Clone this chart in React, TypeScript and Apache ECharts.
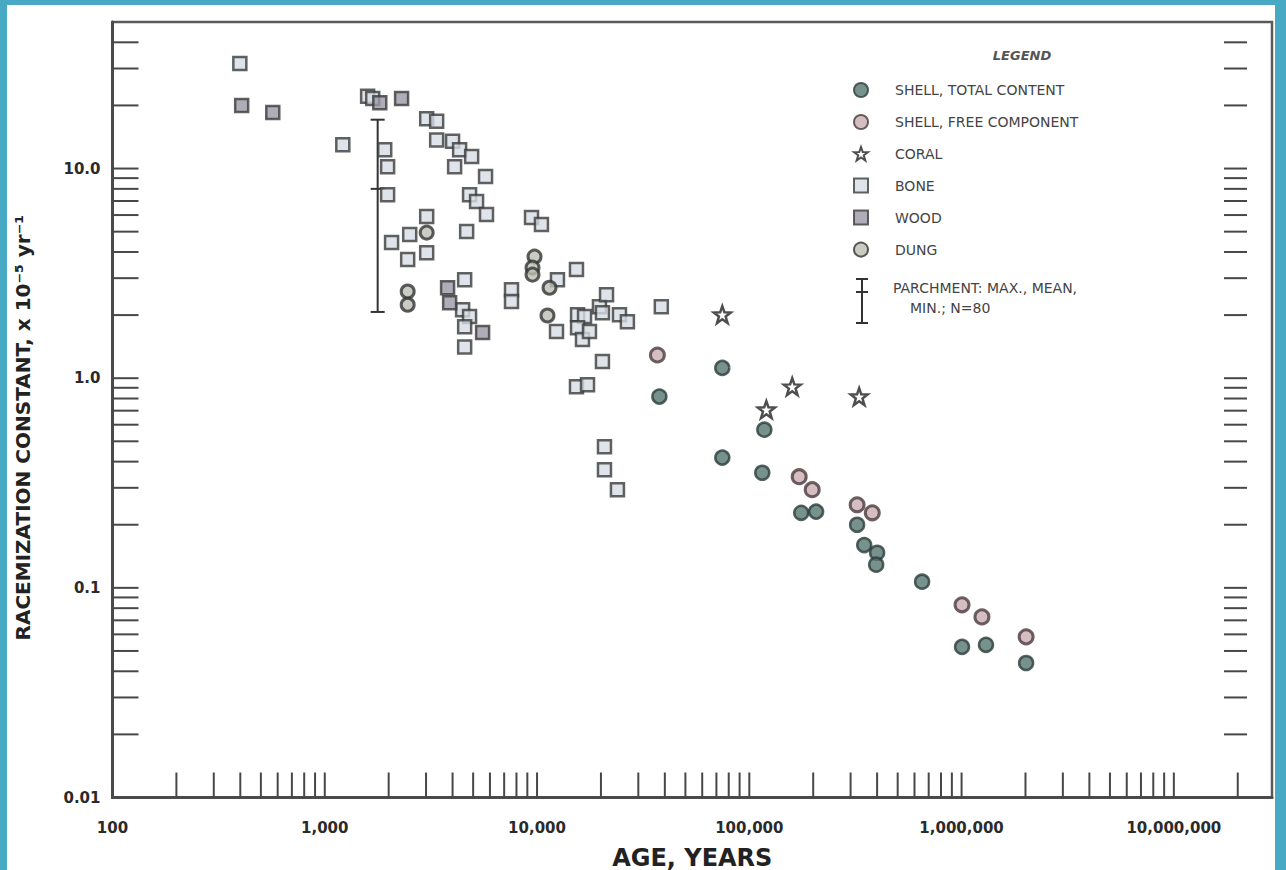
import React, { useEffect, useRef } from "react";
import * as echarts from "echarts";

// ---- axis extents & tick labels ----
const X_MIN = 100;
const X_MAX = 2.9e7;
const Y_MIN = 0.01;
const Y_MAX = 50;
const X_DECADES = [100, 1000, 1e4, 1e5, 1e6, 1e7];
const X_TICK_LABELS = ["100", "1,000", "10,000", "100,000", "1,000,000", "10,000,000"];
const Y_DECADES = [0.01, 0.1, 1, 10];
const Y_TICK_LABELS = ["0.01", "0.1", "1.0", "10.0"];
const TICK_MULTIPLIERS = [1, 2, 3, 4, 5, 6, 7, 8, 9];

// ---- data: [age (years), racemization constant (x10^-5 / yr)] ----
const SHELL_TOTAL = [
  [37700, 0.817], [74600, 1.12], [74600, 0.418], [117700, 0.568], [115100, 0.354],
  [175600, 0.228], [206400, 0.231], [322000, 0.2], [347800, 0.16], [400000, 0.147],
  [396000, 0.129], [651600, 0.107], [1005000, 0.0523], [1303000, 0.0535], [2014000, 0.0438],
];
const SHELL_FREE = [
  [36900, 1.29], [171800, 0.339], [197800, 0.294], [322000, 0.249], [379600, 0.228],
  [1005000, 0.083], [1247000, 0.0727], [2014000, 0.0584],
];
const CORAL = [[74600, 2.01], [120300, 0.708], [159300, 0.911], [329200, 0.817]];
const BONE = [
  [398, 31.7], [1216, 13.0], [1592, 22.1], [1682, 21.6], [1916, 12.3], [1977, 10.2],
  [1977, 7.5], [2064, 4.44], [2513, 4.85], [2458, 3.68], [3021, 17.3], [3366, 16.8],
  [3366, 13.7], [4000, 13.5], [4318, 12.3], [4920, 11.4], [4090, 10.2], [5720, 9.16],
  [4810, 7.5], [5190, 6.96], [5780, 6.03], [3021, 5.9], [4660, 5.01], [3021, 3.97],
  [4560, 2.95], [7580, 2.64], [7580, 2.32], [4460, 2.12], [4810, 1.97], [4560, 1.76],
  [4560, 1.41], [9420, 5.84], [10490, 5.41], [12480, 2.95], [15340, 3.3], [12350, 1.67],
  [15520, 2.01], [16740, 1.97], [15520, 1.74], [16370, 1.53], [17660, 1.67], [19680, 2.19],
  [21250, 2.5], [20330, 2.05], [24450, 2.01], [26650, 1.86], [38500, 2.19], [20330, 1.2],
  [15340, 0.911], [17290, 0.931], [20780, 0.471], [20780, 0.366], [23920, 0.294],
];
const WOOD = [[406, 20.0], [569, 18.5], [1816, 20.6], [2301, 21.6], [3790, 2.7], [3875, 2.29], [5540, 1.65]];
const DUNG = [
  [3021, 4.95], [2458, 2.59], [2458, 2.24], [9730, 3.8], [9520, 3.37], [9520, 3.12],
  [11450, 2.7], [11200, 1.99],
];
// parchment: [age, min, mean, max]
const PARCHMENT = [[1775, 2.07, 8.0, 17.1]];

const STAR =
  "path://M50,2 L62,36 L98,37 L69,59 L80,95 L50,74 L20,95 L31,59 L2,37 L38,36 Z";

const decadeTicks = (decades: number[], lo: number, hi: number) => {
  const out: number[] = [];
  decades.forEach((d) =>
    TICK_MULTIPLIERS.forEach((m) => {
      const v = d * m;
      if (v > lo * 1.0001 && v < hi * 0.9999) out.push(v);
    })
  );
  return out;
};

const X_TICKS = decadeTicks(X_DECADES, X_MIN, X_MAX);
const Y_TICKS = decadeTicks(Y_DECADES, Y_MIN, Y_MAX);

const labelFor = (decades: number[], labels: string[]) => (v: number) => {
  const i = decades.findIndex((d) => Math.abs(Math.log10(v / d)) < 1e-6);
  return i >= 0 ? labels[i] : "";
};

const TICK_COLOR = "#474747";
const AX_COLOR = "#4a4a4a";
const LEGEND_FONT = "DejaVu Sans";
const LABEL_FONT = "DejaVu Sans";

function tickSeries(name: string, data: number[][], x0: number, y0: number, x1: number, y1: number) {
  return {
    type: "custom",
    name,
    coordinateSystem: "cartesian2d",
    silent: true,
    clip: false,
    z: 1,
    data,
    renderItem: (_p: any, api: any) => {
      const p = api.coord([api.value(0), api.value(1)]);
      return {
        type: "line",
        shape: { x1: p[0] + x0, y1: p[1] + y0, x2: p[0] + x1, y2: p[1] + y1 },
        style: { stroke: TICK_COLOR, lineWidth: 2 },
      };
    },
  };
}

export default function App() {
  const ref = useRef<HTMLDivElement>(null);
  useEffect(() => {
    const chart = echarts.init(ref.current!, null, { renderer: "svg" });
    const legendText = { fontSize: 14, fontFamily: LEGEND_FONT, fill: "#444", verticalAlign: "middle" };
    const option: any = {
      animation: false,
      backgroundColor: "#ffffff",
      grid: {
        left: 112.5,
        right: 14,
        top: 22,
        bottom: 72.5,
        outerBoundsMode: "none",
        containLabel: false,
        show: true,
        borderColor: "#5a5a5a",
        borderWidth: 2.5,
      },
      xAxis: {
        type: "log",
        logBase: 10,
        min: X_MIN,
        max: X_MAX,
        name: "AGE, YEARS",
        nameLocation: "middle",
        nameGap: 48,
        nameTextStyle: { fontSize: 24, fontWeight: "bold", color: "#222", fontFamily: LABEL_FONT },
        axisLine: { show: true, lineStyle: { color: AX_COLOR, width: 3 } },
        axisTick: { show: false },
        splitLine: { show: false },
        axisLabel: {
          margin: 23,
          fontSize: 15,
          fontWeight: "bold",
          color: "#2a2a2a",
          fontFamily: LABEL_FONT,
          showMaxLabel: false,
          formatter: labelFor(X_DECADES, X_TICK_LABELS),
        },
      },
      yAxis: {
        type: "log",
        logBase: 10,
        min: Y_MIN,
        max: Y_MAX,
        name: "RACEMIZATION CONSTANT, x 10\u207B\u2075 yr\u207B\u00B9",
        nameLocation: "middle",
        nameGap: 80,
        nameTextStyle: {
          fontSize: 20,
          fontWeight: "bold",
          color: "#222",
          fontFamily: LABEL_FONT,
          padding: [0, 36, 0, 0],
        },
        axisLine: { show: true, lineStyle: { color: AX_COLOR, width: 3 } },
        axisTick: { show: false },
        splitLine: { show: false },
        axisLabel: {
          margin: 12,
          fontSize: 15,
          fontWeight: "bold",
          color: "#2a2a2a",
          fontFamily: LABEL_FONT,
          showMaxLabel: false,
          formatter: labelFor(Y_DECADES, Y_TICK_LABELS),
        },
      },
      legend: {
        data: ["SHELL, TOTAL CONTENT", "SHELL, FREE COMPONENT", "CORAL", "BONE", "WOOD", "DUNG"],
        orient: "vertical",
        left: 848,
        top: 77,
        itemWidth: 14,
        itemHeight: 14,
        itemGap: 16,
        selectedMode: false,
        textStyle: { fontSize: 14, fontFamily: LEGEND_FONT, color: "#444", padding: [0, 0, 0, 22] },
      },
      graphic: [
        {
          type: "text",
          x: 1022,
          y: 55,
          style: {
            text: "LEGEND",
            fontSize: 13,
            fontStyle: "italic",
            fontWeight: "bold",
            fontFamily: LEGEND_FONT,
            fill: "#555",
            align: "center",
            verticalAlign: "middle",
          },
        },
        { type: "line", shape: { x1: 862, y1: 279, x2: 862, y2: 323 }, style: { stroke: "#333", lineWidth: 2 } },
        { type: "line", shape: { x1: 856, y1: 279, x2: 868, y2: 279 }, style: { stroke: "#333", lineWidth: 2 } },
        { type: "line", shape: { x1: 856, y1: 292, x2: 868, y2: 292 }, style: { stroke: "#333", lineWidth: 2 } },
        { type: "line", shape: { x1: 856, y1: 323, x2: 868, y2: 323 }, style: { stroke: "#333", lineWidth: 2 } },
        { type: "text", x: 893, y: 288, style: { ...legendText, text: "PARCHMENT: MAX., MEAN," } },
        { type: "text", x: 910, y: 308, style: { ...legendText, text: "MIN.; N=80" } },
      ],
      series: [
        tickSeries("xTicks", X_TICKS.map((v) => [v, Y_MIN]), 0, 0, 0, -25),
        tickSeries("yTicksL", Y_TICKS.map((v) => [X_MIN, v]), 0, 0, 26, 0),
        tickSeries("yTicksR", Y_TICKS.map((v) => [X_MAX, v]), -25, 0, -48, 0),
        {
          type: "custom",
          name: "PARCHMENT",
          coordinateSystem: "cartesian2d",
          encode: { x: 0, y: [1, 2, 3] },
          data: PARCHMENT,
          z: 3,
          renderItem: (_p: any, api: any) => {
            const x = api.value(0);
            const lo = api.coord([x, api.value(1)]);
            const mid = api.coord([x, api.value(2)]);
            const hi = api.coord([x, api.value(3)]);
            const st = { stroke: "#333", lineWidth: 2 };
            return {
              type: "group",
              children: [
                { type: "line", shape: { x1: lo[0], y1: lo[1], x2: hi[0], y2: hi[1] }, style: st },
                { type: "line", shape: { x1: hi[0] - 7, y1: hi[1], x2: hi[0] + 7, y2: hi[1] }, style: st },
                { type: "line", shape: { x1: mid[0] - 7, y1: mid[1], x2: mid[0] + 7, y2: mid[1] }, style: st },
                { type: "line", shape: { x1: lo[0] - 7, y1: lo[1], x2: lo[0] + 7, y2: lo[1] }, style: st },
              ],
            };
          },
        },
        {
          type: "scatter",
          name: "BONE",
          data: BONE,
          symbol: "rect",
          symbolSize: 13,
          z: 4,
          itemStyle: { color: "#d6dde5", borderColor: "#3b3b3b", borderWidth: 2.5 },
        },
        {
          type: "scatter",
          name: "WOOD",
          data: WOOD,
          symbol: "rect",
          symbolSize: 13,
          z: 4,
          itemStyle: { color: "#9c99a8", borderColor: "#3b3b3b", borderWidth: 2.5 },
        },
        {
          type: "scatter",
          name: "DUNG",
          data: DUNG,
          symbol: "circle",
          symbolSize: 13,
          z: 4,
          itemStyle: { color: "#bcbfb3", borderColor: "#333", borderWidth: 3 },
        },
        {
          type: "scatter",
          name: "SHELL, FREE COMPONENT",
          data: SHELL_FREE,
          symbol: "circle",
          symbolSize: 14,
          z: 4,
          itemStyle: { color: "#c9aeb1", borderColor: "#4a3a3d", borderWidth: 3 },
        },
        {
          type: "scatter",
          name: "SHELL, TOTAL CONTENT",
          data: SHELL_TOTAL,
          symbol: "circle",
          symbolSize: 14,
          z: 5,
          itemStyle: { color: "#557670", borderColor: "#2c3d3a", borderWidth: 2.5 },
        },
        {
          type: "scatter",
          name: "CORAL",
          data: CORAL,
          symbol: STAR,
          symbolSize: 17,
          z: 5,
          itemStyle: { color: "#ffffff", borderColor: "#222", borderWidth: 2.5 },
        },
      ],
    };
    chart.setOption(option);
    return () => chart.dispose();
  }, []);

  return (
    <div style={{ position: "fixed", left: 0, top: 0, width: 1286, height: 870, background: "#fff" }}>
      <div ref={ref} style={{ width: 1286, height: 870 }} />
      <div
        style={{
          position: "absolute",
          left: 0,
          top: 0,
          width: 1286,
          height: 870,
          boxSizing: "border-box",
          borderLeft: "7px solid #48a9c5",
          borderTop: "5px solid #48a9c5",
          borderRight: "11px solid #48a9c5",
          pointerEvents: "none",
        }}
      />
    </div>
  );
}
